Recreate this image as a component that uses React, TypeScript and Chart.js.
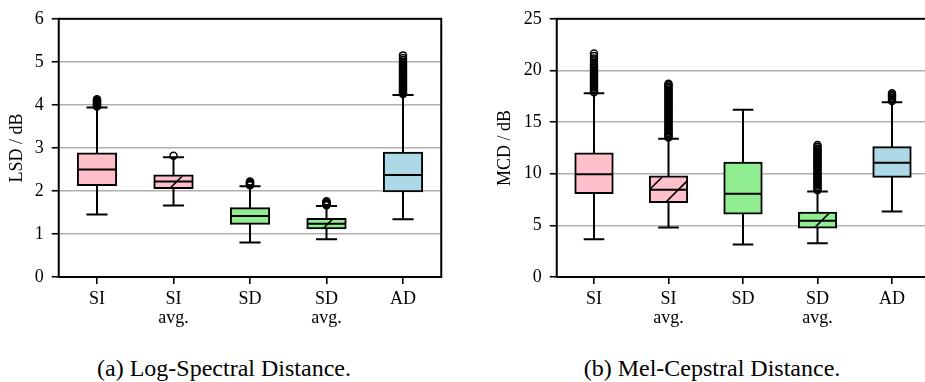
import React, { useEffect, useRef } from 'react';
import { Chart, registerables } from 'chart.js';

Chart.register(...registerables);

// ---------- data ----------
const categories: string[][] = [['SI'], ['SI', 'avg.'], ['SD'], ['SD', 'avg.'], ['AD']];

// Log-Spectral Distance (dB)
const lsdQ1 = [2.14, 2.07, 1.24, 1.13, 1.99];
const lsdMedian = [2.5, 2.22, 1.42, 1.24, 2.37];
const lsdQ3 = [2.87, 2.36, 1.6, 1.35, 2.89];
const lsdLowerWhisker = [1.45, 1.66, 0.8, 0.88, 1.34];
const lsdUpperWhisker = [3.94, 2.78, 2.11, 1.65, 4.23];
const lsdOutliers: number[][] = [
  [3.96, 3.98, 4.0, 4.02, 4.04, 4.05, 4.07, 4.09, 4.11, 4.13],
  [2.82],
  [2.13, 2.145, 2.16, 2.175, 2.19, 2.205, 2.22],
  [1.67, 1.685, 1.7, 1.715, 1.73, 1.745, 1.76],
  [4.25, 4.28, 4.31, 4.34, 4.37, 4.4, 4.43, 4.46, 4.49, 4.52, 4.55, 4.58, 4.61, 4.64, 4.67,
    4.7, 4.73, 4.76, 4.79, 4.82, 4.85, 4.88, 4.91, 4.94, 4.97, 5.0, 5.04, 5.09, 5.15],
];
const lsdTicks = { max: 6, step: 1 };

// Mel-Cepstral Distance (dB)
const mcdQ1 = [8.14, 7.25, 6.14, 4.8, 9.7];
const mcdMedian = [9.95, 8.46, 8.05, 5.44, 11.07];
const mcdQ3 = [11.96, 9.73, 11.07, 6.23, 12.57];
const mcdLowerWhisker = [3.66, 4.8, 3.15, 3.27, 6.33];
const mcdUpperWhisker = [17.78, 13.39, 16.19, 8.27, 16.92];
const mcdOutliers: number[][] = [
  [17.9, 18.05, 18.2, 18.35, 18.5, 18.65, 18.8, 18.95, 19.1, 19.25, 19.4, 19.55, 19.7, 19.85,
    20.0, 20.15, 20.3, 20.45, 20.65, 20.9, 21.15, 21.4, 21.65],
  [13.5, 13.65, 13.8, 13.95, 14.1, 14.25, 14.4, 14.55, 14.7, 14.85, 15.0, 15.15, 15.3, 15.45,
    15.6, 15.75, 15.9, 16.05, 16.2, 16.35, 16.5, 16.65, 16.8, 16.95, 17.1, 17.25, 17.4, 17.55,
    17.7, 17.85, 18.0, 18.15, 18.3, 18.45, 18.6, 18.72],
  [],
  [8.4, 8.55, 8.7, 8.85, 9.0, 9.15, 9.3, 9.45, 9.6, 9.75, 9.9, 10.05, 10.2, 10.35, 10.5, 10.65,
    10.8, 10.95, 11.1, 11.25, 11.4, 11.55, 11.7, 11.85, 12.0, 12.15, 12.3, 12.45, 12.6, 12.78],
  [17.05, 17.2, 17.35, 17.5, 17.65, 17.78],
];
const mcdTicks = { max: 25, step: 5 };

// ---------- styles ----------
const FONT = '"Liberation Serif", "Times New Roman", serif';
const boxColors = ['#ffc0cb', '#ffc0cb', '#90ee90', '#90ee90', '#add8e6'];
const hatched = [false, true, false, true, false];
const BOX_HALF = 0.25;
const CAP_HALF = 0.125;
const HATCH_SPACING = 28.8;
const HATCH_PHASE = 16;

const hatchPlugin = {
  id: 'boxHatch',
  afterDatasetDraw(chart: any, args: any) {
    const ds = chart.data.datasets[args.index];
    if (!ds.isBox) return;
    const ctx = chart.ctx;
    args.meta.data.forEach((el: any, i: number) => {
      if (!hatched[i]) return;
      const { x, y, base, width } = el.getProps(['x', 'y', 'base', 'width'], true);
      const left = x - width / 2 + 1;
      const right = x + width / 2 - 1;
      const top = Math.min(y, base) + 1;
      const bottom = Math.max(y, base) - 1;
      ctx.save();
      ctx.beginPath();
      ctx.rect(left, top, right - left, bottom - top);
      ctx.clip();
      ctx.beginPath();
      ctx.strokeStyle = '#000';
      ctx.lineWidth = 1.6;
      const s0 = x - width / 2 + Math.max(y, base) + HATCH_PHASE;
      const sMin = left + top;
      const sMax = right + bottom;
      let s = s0 - Math.ceil((s0 - sMin) / HATCH_SPACING) * HATCH_SPACING;
      for (; s <= sMax + HATCH_SPACING; s += HATCH_SPACING) {
        ctx.moveTo(s - bottom - 3, bottom + 3);
        ctx.lineTo(s - top + 3, top - 3);
      }
      ctx.stroke();
      ctx.restore();
    });
  },
};

const framePlugin = {
  id: 'axesFrame',
  afterDatasetsDraw(chart: any) {
    const { ctx, chartArea } = chart;
    const { left, top, right, bottom } = chartArea;
    ctx.save();
    ctx.strokeStyle = '#000';
    ctx.lineWidth = 2;
    ctx.strokeRect(left, top, right - left, bottom - top);
    ctx.restore();
  },
};

type BoxProps = {
  q1: number[];
  med: number[];
  q3: number[];
  lo: number[];
  hi: number[];
  outliers: number[][];
  yTicks: { max: number; step: number };
  yTitle: string;
  left: number;
  width: number;
  height: number;
  axisWidth: number;
  padRight: number;
  titlePad: number;
};

function BoxChart(p: BoxProps) {
  const ref = useRef<HTMLCanvasElement | null>(null);
  useEffect(() => {
    if (!ref.current) return;
    const boxData = p.q1.map((v, i) => ({ x: i + 1, y: [v, p.q3[i]] }));
    const medianData = p.med.flatMap((m, i) => [
      { x: i + 1 - BOX_HALF, y: m },
      { x: i + 1 + BOX_HALF, y: m },
      { x: i + 1.5, y: null },
    ]);
    const whiskerData = p.q1.flatMap((v, i) => [
      { x: i + 1, y: v },
      { x: i + 1, y: p.lo[i] },
      { x: i + 1, y: null },
      { x: i + 1, y: p.q3[i] },
      { x: i + 1, y: p.hi[i] },
      { x: i + 1, y: null },
    ]);
    const capData = p.lo.flatMap((v, i) => [
      { x: i + 1 - CAP_HALF, y: v },
      { x: i + 1 + CAP_HALF, y: v },
      { x: i + 1, y: null },
      { x: i + 1 - CAP_HALF, y: p.hi[i] },
      { x: i + 1 + CAP_HALF, y: p.hi[i] },
      { x: i + 1, y: null },
    ]);
    const flierData = p.outliers.flatMap((arr, i) => arr.map((v) => ({ x: i + 1, y: v })));

    const tickFont = { family: FONT, size: 18, lineHeight: 1.05 };
    const chart = new Chart(ref.current, {
      type: 'bar',
      data: {
        datasets: [
          {
            isBox: true,
            type: 'bar',
            data: boxData,
            backgroundColor: boxColors,
            borderColor: '#000',
            borderWidth: 2,
            borderSkipped: false,
            inflateAmount: 1,
            barPercentage: 0.5,
            categoryPercentage: 1,
            order: 4,
          } as any,
          {
            type: 'line',
            data: whiskerData,
            borderColor: '#000',
            borderWidth: 2,
            pointRadius: 0,
            borderCapStyle: 'butt',
            spanGaps: false,
            order: 3,
          } as any,
          {
            type: 'line',
            data: capData,
            borderColor: '#000',
            borderWidth: 2,
            pointRadius: 0,
            borderCapStyle: 'square',
            spanGaps: false,
            order: 2,
          } as any,
          {
            type: 'line',
            data: medianData,
            borderColor: '#000',
            borderWidth: 2,
            pointRadius: 0,
            borderCapStyle: 'butt',
            spanGaps: false,
            order: 1,
          } as any,
          {
            type: 'line',
            data: flierData,
            showLine: false,
            pointStyle: 'circle',
            pointRadius: 3.5,
            pointBorderWidth: 1.5,
            pointBorderColor: '#000',
            pointBackgroundColor: 'rgba(0,0,0,0)',
            order: 0,
          } as any,
        ],
      },
      options: {
        responsive: false,
        animation: false,
        devicePixelRatio: 1,
        layout: { padding: { left: 0, top: 15, right: p.padRight, bottom: 0 } },
        plugins: { legend: { display: false }, tooltip: { enabled: false } },
        scales: {
          x: {
            type: 'linear',
            min: 0.5,
            max: 5.5,
            offset: false,
            grid: {
              drawOnChartArea: false,
              offset: false,
              color: '#000',
              tickColor: '#000',
              tickLength: 7,
              tickWidth: 1.6,
              lineWidth: 1.6,
            },
            border: { display: false },
            afterBuildTicks: (s: any) => {
              s.ticks = categories.map((_, i) => ({ value: i + 1 }));
            },
            afterFit: (s: any) => {
              s.height = p.height - 277;
            },
            ticks: {
              autoSkip: false,
              maxRotation: 0,
              padding: 6,
              color: '#000',
              font: tickFont,
              callback: (v: any) => categories[Math.round(Number(v)) - 1],
            },
          },
          y: {
            type: 'linear',
            min: 0,
            max: p.yTicks.max,
            grid: {
              color: '#b0b0b0',
              lineWidth: 1.5,
              tickColor: '#000',
              tickLength: 7,
              tickWidth: 1.6,
            },
            border: { display: false },
            afterFit: (s: any) => {
              s.width = p.axisWidth;
            },
            ticks: {
              stepSize: p.yTicks.step,
              padding: 8,
              color: '#000',
              font: { family: FONT, size: 18 },
            },
            title: {
              display: true,
              text: p.yTitle,
              color: '#000',
              font: { family: FONT, size: 18 },
              padding: { top: p.titlePad, bottom: 0 },
            },
          },
        },
      } as any,
      plugins: [hatchPlugin, framePlugin],
    });
    return () => chart.destroy();
  }, []);
  return (
    <canvas
      ref={ref}
      width={p.width}
      height={p.height}
      style={{ position: 'absolute', left: p.left, top: 0, width: p.width, height: p.height, display: 'block' }}
    />
  );
}

const captionStyle: React.CSSProperties = {
  position: 'absolute',
  top: 356,
  width: 400,
  textAlign: 'center',
  fontFamily: FONT,
  fontSize: 24,
  lineHeight: '24px',
  color: '#000',
  whiteSpace: 'nowrap',
};

export default function App() {
  return (
    <div
      style={{
        position: 'absolute',
        left: 0,
        top: 0,
        width: 925,
        height: 382,
        overflow: 'hidden',
        background: '#fff',
      }}
    >
      <BoxChart
        q1={lsdQ1}
        med={lsdMedian}
        q3={lsdQ3}
        lo={lsdLowerWhisker}
        hi={lsdUpperWhisker}
        outliers={lsdOutliers}
        yTicks={lsdTicks}
        yTitle="LSD / dB"
        left={0}
        width={460}
        height={345}
        axisWidth={58.75}
        padRight={18.75}
        titlePad={6.7}
      />
      <BoxChart
        q1={mcdQ1}
        med={mcdMedian}
        q3={mcdQ3}
        lo={mcdLowerWhisker}
        hi={mcdUpperWhisker}
        outliers={mcdOutliers}
        yTicks={mcdTicks}
        yTitle="MCD / dB"
        left={480}
        width={460}
        height={345}
        axisWidth={76.75}
        padRight={10.75}
        titlePad={14.2}
      />
      <div style={{ ...captionStyle, left: 24 }}>(a) Log-Spectral Distance.</div>
      <div style={{ ...captionStyle, left: 512 }}>(b) Mel-Cepstral Distance.</div>
    </div>
  );
}
